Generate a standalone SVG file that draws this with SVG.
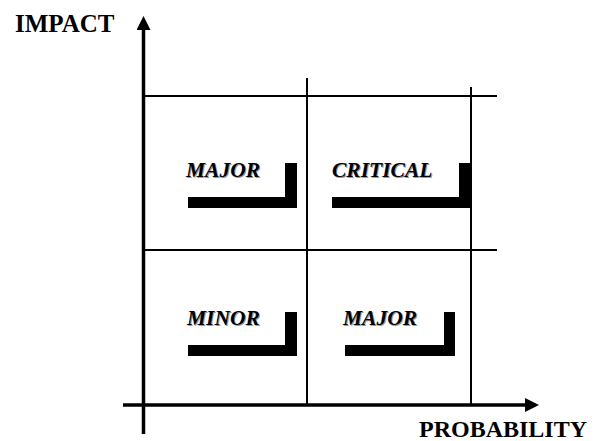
<svg xmlns="http://www.w3.org/2000/svg" width="595" height="441" viewBox="0 0 595 441">
<style>
.axis{stroke:#000;stroke-width:3.5;fill:none}
.grid{stroke:#000;stroke-width:2;fill:none}
.axlbl{font-family:"Liberation Serif",serif;font-weight:bold;font-size:25px;fill:#000}
.lbl{font-family:"Liberation Serif",serif;font-weight:bold;font-style:italic;font-size:21.5px;fill:#000}
.shd{font-family:"Liberation Serif",serif;font-weight:bold;font-style:italic;font-size:21.5px;fill:#9a9a9a}
.bar{fill:#000}
</style>
<defs>
<marker id="ah" markerWidth="4" markerHeight="4" refX="0" refY="2" orient="auto" markerUnits="strokeWidth">
<path d="M0,0 L4,2 L0,4 Z" fill="#000"/>
</marker>
</defs>
<rect width="595" height="441" fill="#fff"/>
<g id="connectors">
<line class="axis" x1="143.5" y1="434" x2="143.5" y2="30" marker-end="url(#ah)"/>
<line class="axis" x1="123" y1="405" x2="525" y2="405" marker-end="url(#ah)"/>
<line class="grid" x1="143" y1="96" x2="497" y2="96"/>
<line class="grid" x1="143" y1="250" x2="497" y2="250"/>
<line class="grid" x1="307" y1="78" x2="307" y2="405"/>
<line class="grid" x1="471" y1="87" x2="471" y2="405"/>
</g>
<g id="axis-impact"><text class="axlbl" x="15" y="32">IMPACT</text></g>
<g id="axis-probability"><text class="axlbl" x="419" y="437" style="font-size:24px">PROBABILITY</text></g>
<g id="cell-major-top">
<text class="shd" x="187" y="178">MAJOR</text>
<text class="lbl" x="186" y="177">MAJOR</text>
<path class="bar" d="M188,197 H285 V163 H297 V208 H188 Z"/>
</g>
<g id="cell-critical">
<text class="shd" x="333" y="178">CRITICAL</text>
<text class="lbl" x="332" y="177">CRITICAL</text>
<path class="bar" d="M332,197 H459 V163 H470 V208 H332 Z"/>
</g>
<g id="cell-minor">
<text class="shd" x="188" y="326">MINOR</text>
<text class="lbl" x="187" y="325">MINOR</text>
<path class="bar" d="M188,345 H285 V312 H297 V356 H188 Z"/>
</g>
<g id="cell-major-bottom">
<text class="shd" x="344" y="326">MAJOR</text>
<text class="lbl" x="343" y="325">MAJOR</text>
<path class="bar" d="M345,345 H444 V312 H455 V356 H345 Z"/>
</g>
</svg>
